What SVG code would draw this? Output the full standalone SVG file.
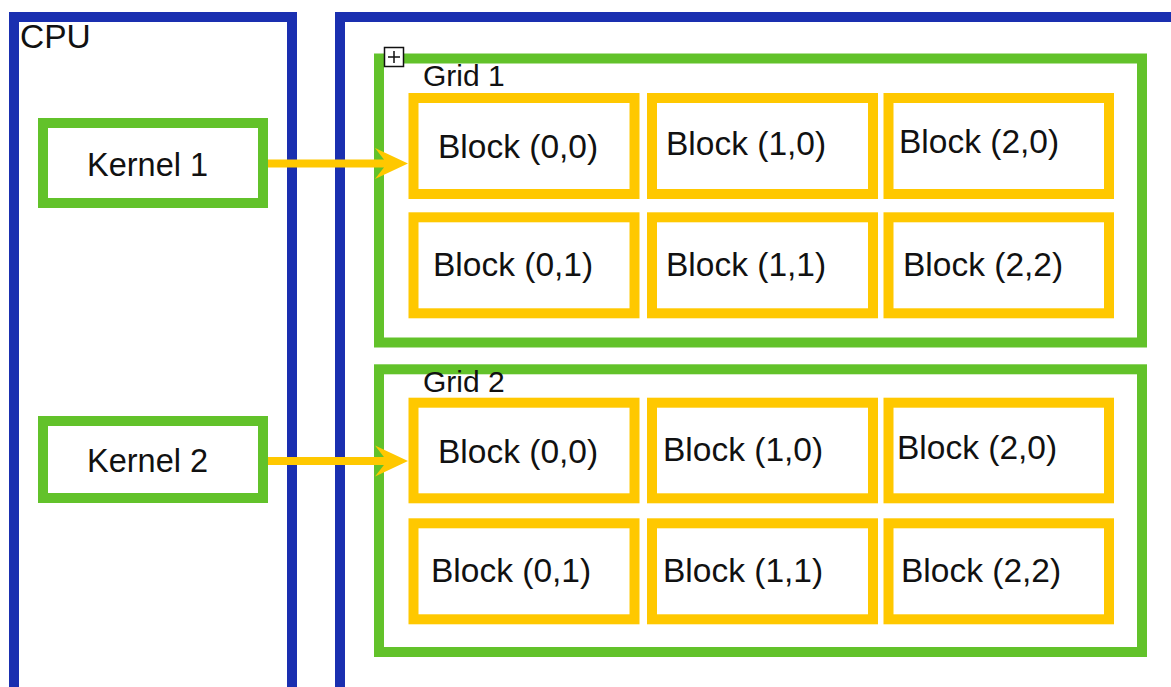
<svg xmlns="http://www.w3.org/2000/svg" width="1171" height="687" viewBox="0 0 1171 687">
  <style>
    .host { fill: none; stroke: #1a2fb0; stroke-width: 10; }
    .grid { fill: none; stroke: #62c22a; stroke-width: 10; }
    .kernel { fill: #ffffff; stroke: #62c22a; stroke-width: 10; }
    .block { fill: #ffffff; stroke: #ffc800; stroke-width: 10; }
    .label { font-family: "Liberation Sans", Arial, sans-serif; fill: #111111; }
    .blk { font-size: 33.5px; }
    .krn { font-size: 32.5px; }
    .host-title { font-size: 33.5px; }
    .title { font-size: 30px; }
    .link { stroke: #ffc800; stroke-width: 8; fill: none; }
    .head { fill: #ffc800; }
  </style>
  <rect width="1171" height="687" fill="#ffffff"/>

  <!-- host side -->
  <g id="cpu">
    <rect class="host" x="14" y="17" width="278" height="700"/>
    <text class="label host-title" x="20" y="48">CPU</text>
  </g>

  <!-- device side -->
  <g id="gpu">
    <rect class="host" x="340" y="17" width="860" height="700"/>
  </g>

  <g id="kernel1">
    <rect class="kernel" x="43" y="123" width="220" height="80"/>
    <text class="label krn" x="87" y="176">Kernel 1</text>
  </g>
  <g id="kernel2">
    <rect class="kernel" x="43" y="421" width="220" height="77"/>
    <text class="label krn" x="87" y="472">Kernel 2</text>
  </g>

  <!-- grid 1 -->
  <g id="grid1">
    <rect class="grid" x="379" y="58.5" width="763" height="284"/>
    <rect x="384.5" y="47.5" width="19" height="19" fill="#ffffff" stroke="#111111" stroke-width="1.5"/>
    <path d="M388 57 H400 M394 51 V63" stroke="#111111" stroke-width="1.5"/>
    <text class="label title" x="423" y="86">Grid 1</text>
  </g>
  <g id="g1-b00">
    <rect class="block" x="413.5" y="98" width="221" height="96"/>
    <text class="label blk" x="438" y="158">Block (0,0)</text>
  </g>
  <g id="g1-b10">
    <rect class="block" x="652" y="98" width="221" height="96"/>
    <text class="label blk" x="666" y="155">Block (1,0)</text>
  </g>
  <g id="g1-b20">
    <rect class="block" x="888.5" y="98" width="220.5" height="96"/>
    <text class="label blk" x="899" y="153">Block (2,0)</text>
  </g>
  <g id="g1-b01">
    <rect class="block" x="413.5" y="217.3" width="221" height="96"/>
    <text class="label blk" x="433" y="276">Block (0,1)</text>
  </g>
  <g id="g1-b11">
    <rect class="block" x="652" y="217.3" width="221" height="96"/>
    <text class="label blk" x="666" y="276">Block (1,1)</text>
  </g>
  <g id="g1-b22">
    <rect class="block" x="888.5" y="217.3" width="220.5" height="96"/>
    <text class="label blk" x="903" y="276">Block (2,2)</text>
  </g>

  <!-- grid 2 -->
  <g id="grid2">
    <rect class="grid" x="379" y="369.3" width="763" height="282.7"/>
    <text class="label title" x="423" y="392">Grid 2</text>
  </g>
  <g id="g2-b00">
    <rect class="block" x="413.5" y="402.7" width="221" height="95.6"/>
    <text class="label blk" x="438" y="463">Block (0,0)</text>
  </g>
  <g id="g2-b10">
    <rect class="block" x="652" y="402.7" width="221" height="95.6"/>
    <text class="label blk" x="663" y="461">Block (1,0)</text>
  </g>
  <g id="g2-b20">
    <rect class="block" x="888.5" y="402.7" width="220.5" height="95.6"/>
    <text class="label blk" x="897" y="459">Block (2,0)</text>
  </g>
  <g id="g2-b01">
    <rect class="block" x="413.5" y="523.3" width="221" height="96"/>
    <text class="label blk" x="431" y="582">Block (0,1)</text>
  </g>
  <g id="g2-b11">
    <rect class="block" x="652" y="523.3" width="221" height="96"/>
    <text class="label blk" x="663" y="582">Block (1,1)</text>
  </g>
  <g id="g2-b22">
    <rect class="block" x="888.5" y="523.3" width="220.5" height="96"/>
    <text class="label blk" x="901" y="582">Block (2,2)</text>
  </g>

  <!-- launches -->
  <g id="connectors">
    <line class="link" x1="268" y1="163.5" x2="392" y2="163.5"/>
    <path class="head" d="M408 163.5 L375 148 L387 163.5 L375 179 Z"/>
    <line class="link" x1="268" y1="461" x2="392" y2="461"/>
    <path class="head" d="M408 461 L375 445.5 L387 461 L375 476.5 Z"/>
  </g>
</svg>
